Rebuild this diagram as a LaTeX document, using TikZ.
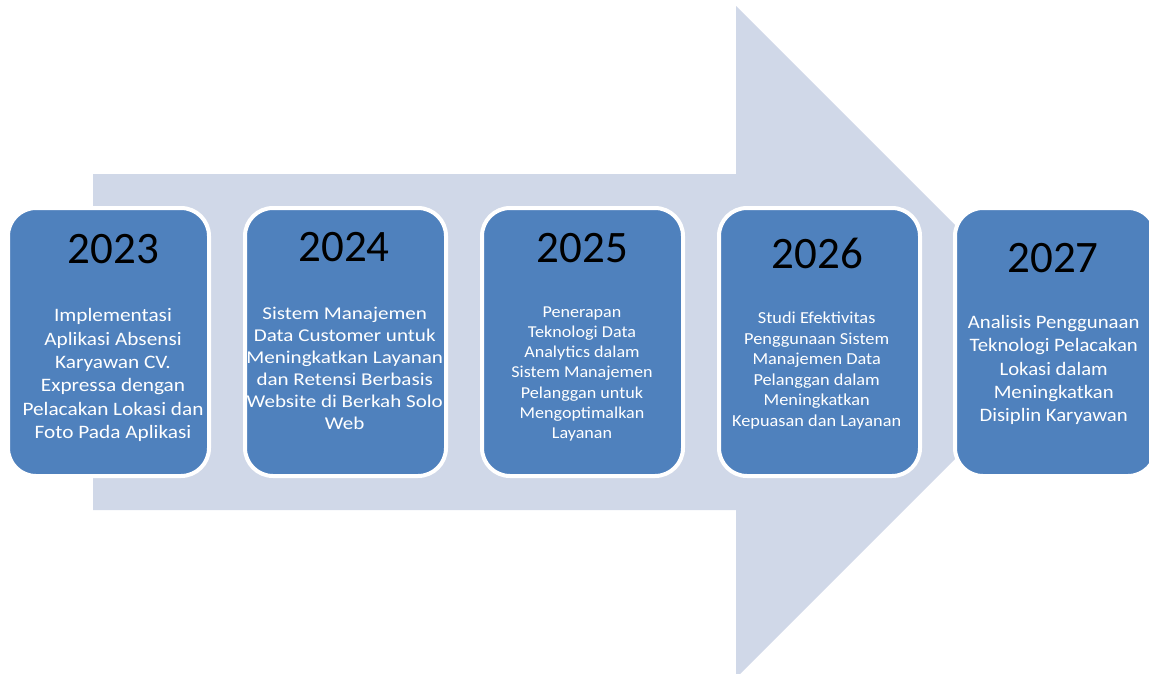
\documentclass[tikz,border=0pt]{standalone}
\usepackage{fontspec}
\setmainfont{Carlito}
\newfontfamily\wideA[FakeStretch=1.12]{Carlito}
\newfontfamily\wideB[FakeStretch=1.17]{Carlito}
\newfontfamily\wideC[FakeStretch=1.09]{Carlito}
\definecolor{boxblue}{HTML}{4F81BD}
\definecolor{arrowgray}{HTML}{D0D8E8}
\tikzset{
  yearbox/.style={draw=white, line width=4pt, fill=boxblue, rounded corners=28pt,
    minimum width=201pt, minimum height=268pt, inner sep=0pt},
  yearlabel/.style={anchor=base, text=black, font=\fontsize{45}{54}\selectfont},
  desc/.style={align=center, text=white, inner sep=0pt},
}
\begin{document}
\begin{tikzpicture}[x=1pt,y=-1pt]
      \useasboundingbox (0,0) rectangle (1149,673);
      % big background arrow
      \fill [arrowgray] (93,174) -- (736,174) -- (736,6) -- (1072,342)
            -- (736,678) -- (736,510) -- (93,510) -- cycle;
      % boxes
      \node [yearbox] (B23) at (108.5,342) {};
      \node [yearbox] (B24) at (345.5,342) {};
      \node [yearbox] (B25) at (582.5,342) {};
      \node [yearbox] (B26) at (819.5,342) {};
      \node [yearbox] (B27) at (1055.5,342) {};
      % years
      \node [yearlabel] (Y23) at (113.5,263) {2023};
      \node [yearlabel] (Y24) at (344,261) {2024};
      \node [yearlabel] (Y25) at (582.5,262) {2025};
      \node [yearlabel] (Y26) at (817.5,268) {2026};
      \node [yearlabel] (Y27) at (1053,272) {2027};
      % descriptions
      \node [desc, font=\wideA\fontsize{19}{23.3}\selectfont] (D23) at (113,375)
        {Implementasi\\Aplikasi Absensi\\Karyawan CV.\\Expressa dengan\\Pelacakan Lokasi dan\\Foto Pada Aplikasi};
      \node [desc, font=\wideB\fontsize{18}{21.9}\selectfont] (D24) at (344.7,368.5)
        {Sistem Manajemen\\Data Customer untuk\\Meningkatkan Layanan\\dan Retensi Berbasis\\Website di Berkah Solo\\Web};
      \node [desc, font=\wideC\fontsize{16.6}{20.3}\selectfont] (D25) at (582,374)
        {Penerapan\\Teknologi Data\\Analytics dalam\\Sistem Manajemen\\Pelanggan untuk\\Mengoptimalkan\\Layanan};
      \node [desc, font=\wideC\fontsize{16.8}{20.5}\selectfont] (D26) at (816.7,370.3)
        {Studi Efektivitas\\Penggunaan Sistem\\Manajemen Data\\Pelanggan dalam\\Meningkatkan\\Kepuasan dan Layanan};
      \node [desc, font=\wideC\fontsize{19}{23.3}\selectfont] (D27) at (1053.7,370)
        {Analisis Penggunaan\\Teknologi Pelacakan\\Lokasi dalam\\Meningkatkan\\Disiplin Karyawan};
\end{tikzpicture}
\end{document}
